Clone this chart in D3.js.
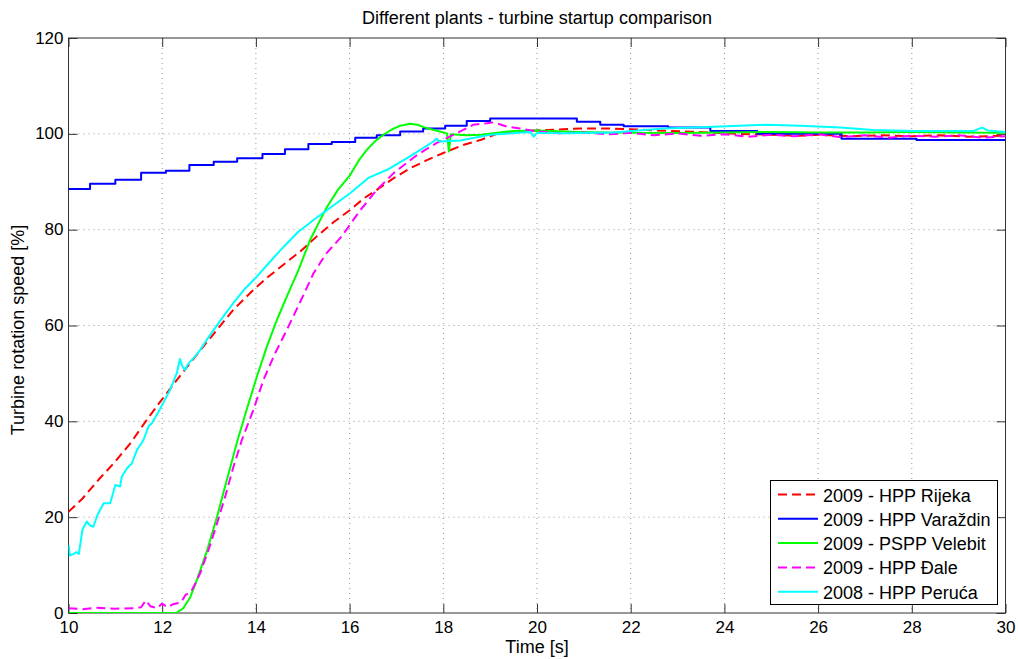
<!DOCTYPE html>
<html>
<head>
<meta charset="utf-8">
<script src="https://cdn.jsdelivr.net/npm/d3@7"></script>
<style>
  body { margin: 0; background: #fff; }
  svg { display: block; font-family: "Liberation Sans", Arial, Helvetica, sans-serif; }
</style>
</head>
<body>
<svg id="chart" width="1018" height="659"></svg>
<script>
// values, [time s, speed %]
const rijeka = [[10,21.1],[10.3,23.9],[10.64,27.8],[10.96,31.2],[11.32,35.4],[11.67,40.3],[11.96,44.1],[12.31,48.6],[12.6,52.2],
  [12.81,54.8],[13.17,59.1],[13.52,63.3],[13.9,67],[14.23,69.9],[14.6,72.8],[14.94,75.4],[15.3,78.6],[15.65,81.5],[16.01,84.1],
  [16.3,86.5],[16.58,88.3],[16.95,90.8],[17.29,92.8],[17.65,94.5],[18.0,96.0],[18.4,97.6],[18.79,98.7],[19.14,100.0],[19.6,100.5],
  [20.21,100.8],[20.92,101.1],[21.63,101.1],[22.35,100.8],[23.41,100.4],[24.3,100.0],[25,99.8],[25.6,99.6],[26,99.8],[26.7,99.5],
  [27.3,99.7],[28,99.5],[28.6,99.7],[29.2,99.4],[30,99.6]];

const varazdin = [[10,88.5],[10.46,89.6],[11.0,90.4],[11.55,91.9],[12.08,92.3],[12.58,93.5],[13.1,94.2],[13.6,94.9],[14.14,95.8],
  [14.62,96.8],[15.12,97.9],[15.62,98.3],[16.12,99.2],[16.58,99.7],[17.08,100.5],[17.57,101.1],[18.04,101.7],[18.5,102.7],
  [19.0,103.2],[20.85,102.5],[21.35,101.9],[21.85,101.6],[22.8,101.3],[23.7,100.6],[24.7,100.0],[26.5,99.0],[28.1,98.7],[30,98.7]];

const velebit = [[10,0],[12.3,0],[12.45,1],[12.6,3.3],[12.74,6.9],[12.95,12.8],[13.17,20.1],[13.4,28.5],[13.61,36.1],[13.82,43],
  [14.02,49.3],[14.23,55.5],[14.45,61.2],[14.68,66.5],[14.91,71.6],[15.16,77.9],[15.37,82.0],[15.52,84.8],[15.75,88.3],[16.01,91.4],
  [16.2,94.5],[16.37,96.7],[16.55,98.5],[16.72,99.8],[16.9,100.9],[17.08,101.7],[17.29,102.1],[17.45,101.9],[17.58,101.4],
  [17.8,100.8],[18.08,100.1],[18.12,96.3],[18.16,99.9],[18.5,99.7],[18.8,99.8],[19.2,100.3],[19.5,100.6],[20,100.7],[20.9,100.4],
  [22,100.2],[23,100.2],[24,100.3],[25,100.4],[26,100.3],[27,100.3],[28,100.4],[29,100.3],[30,100.2]];

const dale = [[10,1.0],[10.3,0.8],[10.6,1.1],[11.0,0.9],[11.4,1.0],[11.55,1.2],[11.65,2.6],[11.75,1.4],[11.9,1.0],[12.0,2.0],
  [12.1,1.2],[12.25,1.9],[12.4,2.2],[12.5,3.8],[12.6,4.2],[12.7,6],[12.81,8.3],[13.0,13.5],[13.17,18.7],[13.35,24.5],[13.52,30.5],
  [13.7,36.1],[13.95,42.5],[14.16,48.6],[14.4,54],[14.66,59.1],[14.95,65],[15.23,70.9],[15.5,75],[15.83,78.6],[16.23,84.1],
  [16.58,88.3],[16.94,91.8],[17.44,95.6],[17.86,98.1],[18.36,100.5],[18.64,101.9],[18.93,102.2],[19.07,102.4],[19.36,101.5],
  [19.64,101.1],[20.0,100.5],[20.5,100.1],[21,100.3],[21.5,99.9],[22,100.2],[22.5,99.7],[23,100.1],[23.5,99.6],[24,99.9],
  [24.5,99.4],[25,99.8],[25.5,99.5],[26,99.9],[26.5,99.3],[27,99.7],[27.5,99.2],[28,99.6],[28.5,99.4],[29,99.7],[29.5,99.2],[30,99.5]];

const peruca = [[10,14.2],[10.03,12.0],[10.1,12.3],[10.17,12.7],[10.22,12.3],[10.3,17.5],[10.39,19.1],[10.47,18.2],[10.53,18.0],
  [10.62,20.5],[10.75,22.9],[10.89,22.9],[11.0,26.7],[11.1,26.4],[11.14,28.5],[11.25,30.2],[11.35,31.2],[11.46,34.0],[11.6,36.1],
  [11.71,39.0],[11.78,39.6],[11.96,42.7],[12.17,46.6],[12.31,50.0],[12.38,53.0],[12.43,51.5],[12.49,50.7],[12.56,52.1],[12.7,53.5],
  [12.81,54.9],[12.95,57],[13.1,59.1],[13.3,61.8],[13.52,64.7],[13.75,67.5],[14.02,70.2],[14.3,73.3],[14.6,76.5],[14.9,79.5],
  [15.23,82.0],[15.52,84.1],[16.01,87.6],[16.4,90.8],[16.8,92.5],[17.29,95.3],[17.79,98.4],[17.85,99.0],[17.92,98.4],[18.36,98.6],
  [19.0,99.8],[19.86,100.4],[19.93,99.4],[20.0,100.2],[20.57,100.1],[21.63,100.3],[22.7,101.1],[23.77,101.5],[24.33,101.7],
  [24.9,101.9],[25.62,101.7],[26.47,101.3],[27.18,100.8],[28.04,100.6],[29.32,100.6],[29.5,101.3],[29.62,100.7],[30,100.4]];

const seriesNames = ["2009 - HPP Rijeka", "2009 - HPP Varaždin", "2009 - PSPP Velebit", "2009 - HPP Đale", "2008 - HPP Peruća"];
const seriesData = [rijeka, varazdin, velebit, dale, peruca];
const seriesColors = ["#ff0000", "#0000ff", "#00ff00", "#ff00ff", "#00ffff"];
const seriesDash = ["9,5", null, null, "9,5", null];
const xTicks = [10, 12, 14, 16, 18, 20, 22, 24, 26, 28, 30];
const yTicks = [0, 20, 40, 60, 80, 100, 120];

const svg = d3.select("#chart");
const plotLeft = 68.5, plotRight = 1005.5, plotTop = 38, plotBottom = 613;

const x = d3.scaleLinear().domain([10, 30]).range([plotLeft, plotRight]);
const y = d3.scaleLinear().domain([0, 120]).range([plotBottom, plotTop]);

// grid
svg.append("g").selectAll("line")
    .data(xTicks.slice(1, -1))
    .join("line")
    .attr("x1", d => x(d)).attr("x2", d => x(d))
    .attr("y1", plotTop).attr("y2", plotBottom)
    .attr("stroke", "#999").attr("stroke-dasharray", "1,4");
svg.append("g").selectAll("line")
    .data(yTicks.slice(1, -1))
    .join("line")
    .attr("x1", plotLeft).attr("x2", plotRight)
    .attr("y1", d => y(d)).attr("y2", d => y(d))
    .attr("stroke", "#999").attr("stroke-dasharray", "1,4");

// axes, ticks pointing inwards
const fs = "17px";
let gx = svg.append("g").attr("transform", `translate(0,${plotBottom})`)
    .call(d3.axisBottom(x).tickValues(xTicks).tickSize(-9).tickPadding(8).tickFormat(d3.format("d")));
let gy = svg.append("g").attr("transform", `translate(${plotLeft},0)`)
    .call(d3.axisLeft(y).tickValues(yTicks).tickSize(-9).tickPadding(5).tickFormat(d3.format("d")));
let gxt = svg.append("g").attr("transform", `translate(0,${plotTop})`)
    .call(d3.axisTop(x).tickValues(xTicks).tickSize(-9).tickFormat(""));
let gyr = svg.append("g").attr("transform", `translate(${plotRight},0)`)
    .call(d3.axisRight(y).tickValues(yTicks).tickSize(-9).tickFormat(""));
[gx, gy, gxt, gyr].forEach(g => {
    g.select(".domain").remove();
    g.selectAll(".tick line").attr("stroke", "#333");
    g.selectAll("text").attr("font-size", fs).attr("fill", "#000").attr("font-family", null);
});
gy.selectAll("text").attr("dy", "0.3em");

svg.append("rect")
    .attr("x", plotLeft).attr("y", plotTop)
    .attr("width", plotRight - plotLeft).attr("height", plotBottom - plotTop)
    .attr("fill", "none").attr("stroke", "#333");

// lines
svg.append("clipPath").attr("id", "plotClip")
    .append("rect").attr("x", plotLeft).attr("y", plotTop).attr("width", plotRight - plotLeft).attr("height", plotBottom - plotTop);

const line = d3.line().x(d => x(d[0])).y(d => y(d[1]));
const stepLine = d3.line().x(d => x(d[0])).y(d => y(d[1])).curve(d3.curveStepAfter);

const plot = svg.append("g").attr("clip-path", "url(#plotClip)");
seriesData.forEach((data, i) => {
    plot.append("path")
        .datum(data)
        .attr("d", i === 1 ? stepLine : line)
        .attr("fill", "none")
        .attr("stroke", seriesColors[i])
        .attr("stroke-width", 2)
        .attr("stroke-linejoin", "round")
        .attr("stroke-dasharray", seriesDash[i]);
});

// titles
svg.append("text")
    .attr("x", (plotLeft + plotRight) / 2).attr("y", 23.5)
    .attr("text-anchor", "middle").attr("font-size", "18px")
    .text("Different plants - turbine startup comparison");
svg.append("text")
    .attr("x", (plotLeft + plotRight) / 2).attr("y", 653)
    .attr("text-anchor", "middle").attr("font-size", "18px")
    .text("Time [s]");
svg.append("text")
    .attr("transform", "translate(24,330) rotate(-90)")
    .attr("text-anchor", "middle").attr("font-size", "18px")
    .text("Turbine rotation speed [%]");

// legend
const legend = svg.append("g");
legend.append("rect")
    .attr("x", 770.5).attr("y", 480.5).attr("width", 227).attr("height", 124)
    .attr("fill", "#fff").attr("stroke", "#000");
seriesNames.forEach((name, i) => {
    let ry = 494.5 + i * 24.3;
    legend.append("line")
        .attr("x1", 778).attr("x2", 818).attr("y1", ry).attr("y2", ry)
        .attr("stroke", seriesColors[i]).attr("stroke-width", 2)
        .attr("stroke-dasharray", seriesDash[i]);
    legend.append("text")
        .attr("x", 823).attr("y", ry + 7)
        .attr("font-size", "18px")
        .text(name);
});
</script>
</body>
</html>
